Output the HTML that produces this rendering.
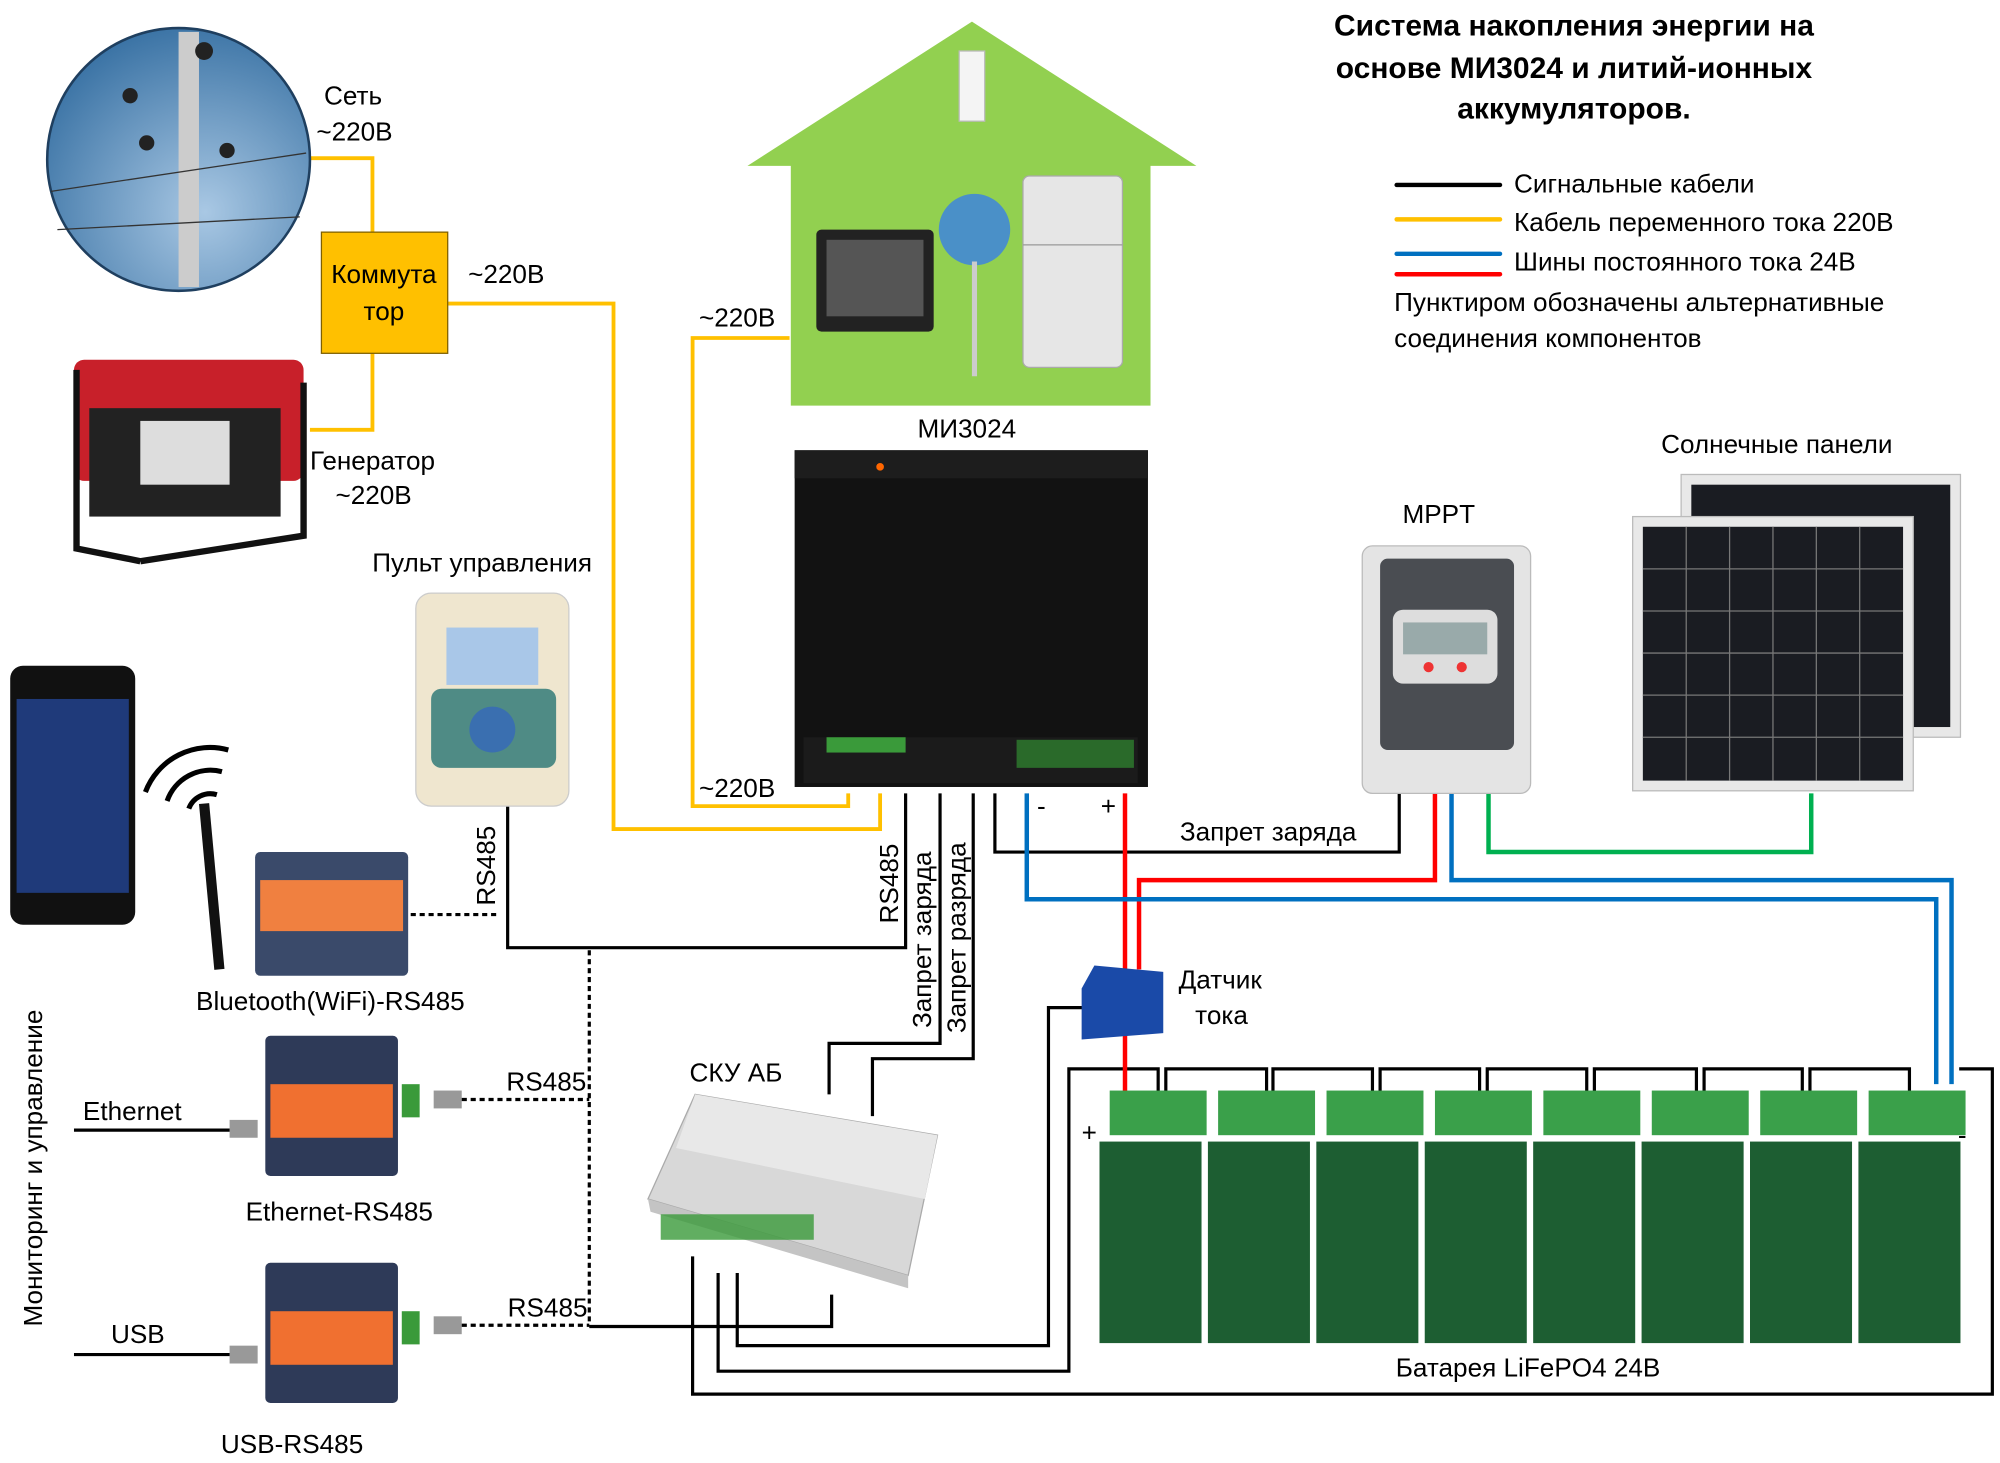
<!DOCTYPE html>
<html><head><meta charset="utf-8"><style>
html,body{margin:0;padding:0;background:#fff}
svg{display:block}
text{font-family:"Liberation Sans","DejaVu Sans",sans-serif;fill:#000}
</style></head><body>
<svg width="2000" height="1463" viewBox="0 0 1568 1147" preserveAspectRatio="none" xmlns="http://www.w3.org/2000/svg">
<defs>
<radialGradient id="sky" cx="0.6" cy="0.7" r="0.8"><stop offset="0" stop-color="#a9c8e4"/><stop offset="1" stop-color="#2f6a9e"/></radialGradient>
</defs>
<rect width="1568" height="1147" fill="#fff"/>

<g font-weight="bold" font-size="23.5" text-anchor="middle">
<text x="1234" y="28">Система накопления энергии на</text>
<text x="1234" y="61">основе МИ3024 и литий-ионных</text>
<text x="1234" y="93">аккумуляторов.</text>
</g>
<g stroke-width="3.5" stroke-linecap="round">
<line x1="1095" y1="145" x2="1176" y2="145" stroke="#000"/>
<line x1="1095" y1="172" x2="1176" y2="172" stroke="#FFC000"/>
<line x1="1095" y1="199" x2="1176" y2="199" stroke="#0070C0"/>
<line x1="1095" y1="215" x2="1176" y2="215" stroke="#FF0000"/>
</g>
<g font-size="20.5">
<text x="1187" y="151">Сигнальные  кабели</text>
<text x="1187" y="181">Кабель переменного тока 220В</text>
<text x="1187" y="212">Шины постоянного тока 24В</text>
<text x="1093" y="244">Пунктиром обозначены альтернативные</text>
<text x="1093" y="272">соединения компонентов</text>
</g>

<g fill="none" stroke="#FFC000" stroke-width="3">
<polyline points="243,124 292,124 292,182"/>
<polyline points="292,277 292,337 243,337"/>
<polyline points="351,238 481,238 481,650 690,650 690,622"/>
<polyline points="619,265 543,265 543,632 665,632 665,622"/>
</g>
<circle cx="140" cy="125" r="103" fill="url(#sky)" stroke="#1f3f5f" stroke-width="2"/>
<rect x="140" y="25" width="16" height="200" fill="#ccc"/>
<line x1="40" y1="150" x2="240" y2="120" stroke="#333" stroke-width="1"/>
<line x1="45" y1="180" x2="235" y2="170" stroke="#333" stroke-width="1"/>
<circle cx="102" cy="75" r="6" fill="#222"/><circle cx="160" cy="40" r="7" fill="#222"/><circle cx="178" cy="118" r="6" fill="#222"/><circle cx="115" cy="112" r="6" fill="#222"/>
<g font-size="20.5">
<text x="254" y="82">Сеть</text>
<text x="248" y="110">~220В</text>
</g>
<rect x="252" y="182" width="99" height="95" fill="#FFC000" stroke="#7f6000" stroke-width="1"/>
<text x="301" y="222" font-size="20.5" text-anchor="middle">Коммута</text>
<text x="301" y="251" font-size="20.5" text-anchor="middle">тор</text>
<text x="367" y="222" font-size="20.5">~220В</text>
<rect x="58" y="282" width="180" height="95" rx="8" fill="#c8202a"/>
<rect x="70" y="320" width="150" height="85" fill="#222"/>
<rect x="110" y="330" width="70" height="50" fill="#ddd"/>
<path d="M60,290 L60,430 L110,440 M238,300 L238,420 L110,440" fill="none" stroke="#111" stroke-width="5"/>
<text x="243" y="368" font-size="20.5">Генератор</text>
<text x="263" y="395" font-size="20.5">~220В</text>

<polygon points="762,17 938,130 902,130 902,318 620,318 620,130 586,130" fill="#92D050"/>
<rect x="640" y="180" width="92" height="80" rx="4" fill="#222"/>
<rect x="648" y="188" width="76" height="60" fill="#555"/>
<circle cx="764" cy="180" r="28" fill="#4a90c8"/>
<line x1="764" y1="205" x2="764" y2="295" stroke="#ccc" stroke-width="4"/>
<rect x="802" y="138" width="78" height="150" rx="5" fill="#e6e6e6" stroke="#aaa"/>
<line x1="802" y1="192" x2="880" y2="192" stroke="#999"/>
<rect x="752" y="40" width="20" height="55" fill="#f4f4f4" stroke="#bbb"/>
<text x="758" y="343" font-size="20.5" text-anchor="middle">МИ3024</text>
<text x="548" y="256" font-size="20.5">~220В</text>
<text x="548" y="625" font-size="20.5">~220В</text>

<rect x="623" y="353" width="277" height="264" fill="#121212"/>
<rect x="623" y="353" width="277" height="22" fill="#1d1d1d"/>
<rect x="630" y="578" width="262" height="36" fill="#1b1b1b"/>
<rect x="648" y="578" width="62" height="12" fill="#3a9a3a"/>
<rect x="797" y="580" width="92" height="22" fill="#2a6a2a"/>
<circle cx="690" cy="366" r="3" fill="#f60"/>

<g fill="none" stroke="#000" stroke-width="2.5">
<polyline points="398,632 398,743 710,743 710,622"/>
<polyline points="737,622 737,818 650,818 650,858"/>
<polyline points="763,622 763,830 684,830 684,875"/>
<polyline points="780,622 780,668 1097,668 1097,622"/>
<polyline points="462,1040 652,1040 652,1015"/>
<polyline points="563,998 563,1075 838,1075 838,838 908,838 908,860"/>
<polyline points="578,998 578,1055 822,1055 822,790 850,790"/>
<polyline points="543,985 543,1093 1562,1093 1562,838 1536,838"/>
</g>
<g fill="none" stroke="#000" stroke-width="2.5">
<polyline points="914,860 914,838 993,838 993,860"/>
<polyline points="998,860 998,838 1076,838 1076,860"/>
<polyline points="1082,860 1082,838 1160,838 1160,860"/>
<polyline points="1166,860 1166,838 1244,838 1244,860"/>
<polyline points="1250,860 1250,838 1330,838 1330,860"/>
<polyline points="1336,860 1336,838 1413,838 1413,860"/>
<polyline points="1419,860 1419,838 1497,838 1497,860"/>
</g>
<g fill="none" stroke-width="3.5">
<polyline points="882,622 882,860" stroke="#FF0000"/>
<polyline points="1125,622 1125,690 893,690 893,760" stroke="#FF0000"/>
<polyline points="805,622 805,705 1518,705 1518,850" stroke="#0070C0"/>
<polyline points="1138,622 1138,690 1530,690 1530,850" stroke="#0070C0"/>
<polyline points="1167,622 1167,668 1420,668 1420,622" stroke="#00B050"/>
</g>
<text x="813" y="639" font-size="20.5">-</text>
<text x="863" y="639" font-size="20.5">+</text>
<text x="925" y="659" font-size="20.5">Запрет заряда</text>

<text x="1128" y="410" font-size="20.5" text-anchor="middle">MPPT</text>
<rect x="1068" y="428" width="132" height="194" rx="8" fill="#e4e4e4" stroke="#bbb"/>
<rect x="1082" y="438" width="105" height="150" rx="6" fill="#4a4d52"/>
<rect x="1092" y="478" width="82" height="58" rx="8" fill="#ddd"/>
<rect x="1100" y="488" width="66" height="25" fill="#9aa"/>
<circle cx="1120" cy="523" r="4" fill="#e33"/><circle cx="1146" cy="523" r="4" fill="#e33"/>
<text x="1393" y="355" font-size="20.5" text-anchor="middle">Солнечные панели</text>
<rect x="1318" y="372" width="219" height="206" fill="#e8e8e8" stroke="#bbb"/>
<rect x="1326" y="380" width="203" height="190" fill="#1a1c22"/>
<rect x="1280" y="405" width="220" height="215" fill="#e8e8e8" stroke="#bbb"/>
<rect x="1288" y="413" width="204" height="199" fill="#1a1c22"/>
<g stroke="#777" stroke-width="1">
<line x1="1322" y1="413" x2="1322" y2="612"/><line x1="1356" y1="413" x2="1356" y2="612"/><line x1="1390" y1="413" x2="1390" y2="612"/><line x1="1424" y1="413" x2="1424" y2="612"/><line x1="1458" y1="413" x2="1458" y2="612"/>
<line x1="1288" y1="446" x2="1492" y2="446"/><line x1="1288" y1="479" x2="1492" y2="479"/><line x1="1288" y1="512" x2="1492" y2="512"/><line x1="1288" y1="545" x2="1492" y2="545"/><line x1="1288" y1="578" x2="1492" y2="578"/>
</g>

<text x="378" y="448" font-size="20.5" text-anchor="middle">Пульт управления</text>
<rect x="326" y="465" width="120" height="167" rx="12" fill="#efe6cf" stroke="#ccc"/>
<rect x="350" y="492" width="72" height="45" fill="#a9c7e8"/>
<rect x="338" y="540" width="98" height="62" rx="8" fill="#4f8b85"/>
<circle cx="386" cy="572" r="18" fill="#3a6fb0"/>

<rect x="8" y="522" width="98" height="203" rx="10" fill="#111"/>
<rect x="13" y="548" width="88" height="152" fill="#1f3a7a"/>
<g fill="none" stroke="#000" stroke-width="4">
<path d="M148,634 A18,18 0 0 1 170,623"/>
<path d="M131,628 A36,36 0 0 1 174,605"/>
<path d="M114,621 A54,54 0 0 1 179,588"/>
</g>
<line x1="160" y1="630" x2="172" y2="760" stroke="#111" stroke-width="8"/>
<rect x="200" y="668" width="120" height="97" rx="4" fill="#3a4a6a"/>
<rect x="204" y="690" width="112" height="40" fill="#f08040"/>
<line x1="322" y1="717" x2="392" y2="717" stroke="#000" stroke-width="2.5" stroke-dasharray="4,3"/>
<text x="259" y="792" font-size="20.5" text-anchor="middle">Bluetooth(WiFi)-RS485</text>
<text transform="translate(388,710) rotate(-90)" font-size="20.5">RS485</text>
<line x1="462" y1="745" x2="462" y2="1040" stroke="#000" stroke-width="2.5" stroke-dasharray="4,3"/>

<rect x="208" y="812" width="104" height="110" rx="4" fill="#2e3a58"/>
<rect x="212" y="850" width="96" height="42" fill="#f07030"/>
<rect x="315" y="850" width="14" height="26" fill="#3a9a3a"/>
<rect x="180" y="878" width="22" height="14" fill="#999"/>
<rect x="340" y="855" width="22" height="14" fill="#999"/>
<line x1="58" y1="886" x2="180" y2="886" stroke="#000" stroke-width="2.5"/>
<text x="65" y="878" font-size="20.5">Ethernet</text>
<text x="397" y="855" font-size="20.5">RS485</text>
<line x1="362" y1="862" x2="462" y2="862" stroke="#000" stroke-width="2.5" stroke-dasharray="4,3"/>
<text x="266" y="957" font-size="20.5" text-anchor="middle">Ethernet-RS485</text>
<rect x="208" y="990" width="104" height="110" rx="4" fill="#2e3a58"/>
<rect x="212" y="1028" width="96" height="42" fill="#f07030"/>
<rect x="315" y="1028" width="14" height="26" fill="#3a9a3a"/>
<rect x="180" y="1055" width="22" height="14" fill="#999"/>
<rect x="340" y="1032" width="22" height="14" fill="#999"/>
<line x1="58" y1="1062" x2="180" y2="1062" stroke="#000" stroke-width="2.5"/>
<text x="87" y="1053" font-size="20.5">USB</text>
<text x="398" y="1032" font-size="20.5">RS485</text>
<line x1="362" y1="1039" x2="462" y2="1039" stroke="#000" stroke-width="2.5" stroke-dasharray="4,3"/>
<text x="229" y="1139" font-size="20.5" text-anchor="middle">USB-RS485</text>
<text transform="translate(33,1040) rotate(-90)" font-size="20.5">Мониторинг и управление</text>

<text transform="translate(704,724) rotate(-90)" font-size="20.5">RS485</text>
<text transform="translate(730,806) rotate(-90)" font-size="20.5">Запрет заряда</text>
<text transform="translate(757,810) rotate(-90)" font-size="20.5">Запрет разряда</text>

<text x="577" y="848" font-size="20.5" text-anchor="middle">СКУ АБ</text>
<polygon points="545,858 735,890 712,1000 508,940" fill="#d8d8d8" stroke="#aaa"/>
<polygon points="508,940 712,1000 712,1010 510,950" fill="#c4c4c4"/>
<polygon points="545,858 735,890 725,940 530,900" fill="#e8e8e8"/>
<rect x="518" y="952" width="120" height="20" fill="#3a9a3a" opacity="0.8"/>

<polygon points="858,757 912,762 912,810 848,815 848,775" fill="#1a4aa8"/>
<text x="924" y="775" font-size="20.5">Датчик</text>
<text x="937" y="803" font-size="20.5">тока</text>

<g>
<rect x="862" y="895" width="80" height="158" fill="#1d5e32"/><rect x="870" y="855" width="76" height="35" fill="#3aa04a"/>
<rect x="947" y="895" width="80" height="158" fill="#1d5e32"/><rect x="955" y="855" width="76" height="35" fill="#3aa04a"/>
<rect x="1032" y="895" width="80" height="158" fill="#1d5e32"/><rect x="1040" y="855" width="76" height="35" fill="#3aa04a"/>
<rect x="1117" y="895" width="80" height="158" fill="#1d5e32"/><rect x="1125" y="855" width="76" height="35" fill="#3aa04a"/>
<rect x="1202" y="895" width="80" height="158" fill="#1d5e32"/><rect x="1210" y="855" width="76" height="35" fill="#3aa04a"/>
<rect x="1287" y="895" width="80" height="158" fill="#1d5e32"/><rect x="1295" y="855" width="76" height="35" fill="#3aa04a"/>
<rect x="1372" y="895" width="80" height="158" fill="#1d5e32"/><rect x="1380" y="855" width="76" height="35" fill="#3aa04a"/>
<rect x="1457" y="895" width="80" height="158" fill="#1d5e32"/><rect x="1465" y="855" width="76" height="35" fill="#3aa04a"/>
</g>
<text x="848" y="895" font-size="20.5">+</text>
<text x="1535" y="897" font-size="20.5">-</text>
<text x="1198" y="1079" font-size="20.5" text-anchor="middle">Батарея LiFePO4 24В</text>
</svg>
</body></html>
